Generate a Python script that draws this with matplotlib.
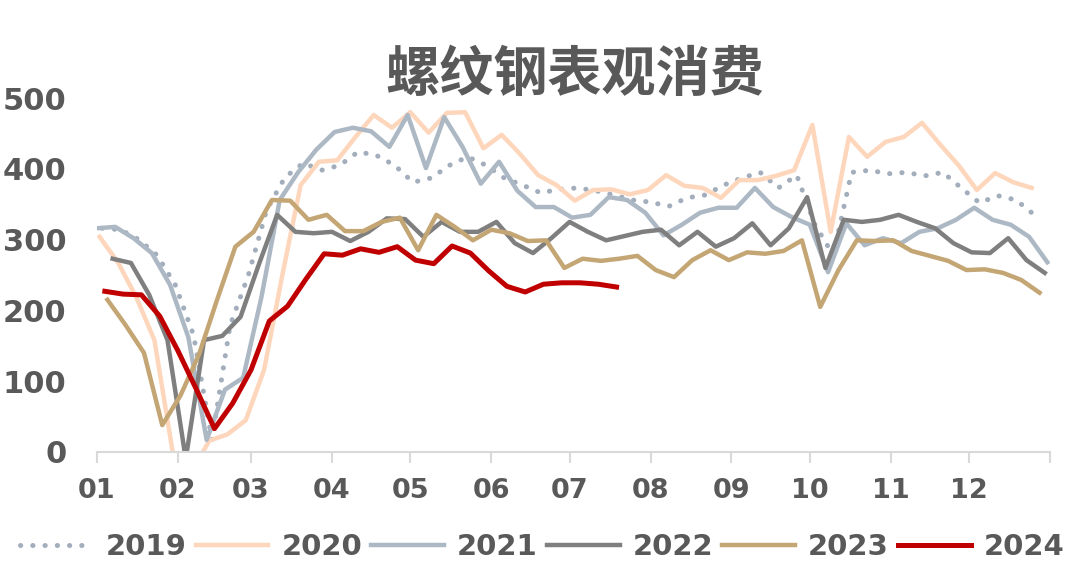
import matplotlib
matplotlib.use("Agg")
import matplotlib.pyplot as plt
import pandas as pd

plt.rcParams["font.family"] = ["DejaVu Sans", "Noto Sans CJK SC"]
plt.rcParams["font.weight"] = "bold"

TXT = "#595959"

# weekly apparent consumption of rebar (10k t)
years = ["2019", "2020", "2021", "2022", "2023", "2024"]
first_week = ["2019-01-03", "2020-01-02", "2021-01-01", "2022-01-07", "2023-01-05", "2024-01-04"]

v2019 = [316, 314, 300, 278, 236, 165, 17, 179, 250, 342, 388, 408, 398, 405, 424, 419, 405, 381,
         387, 405, 417, 405, 387, 377, 366, 371, 373, 369, 363, 356, 353, 347, 359, 363, 377, 387,
         395, 373, 391, 321, 278, 395, 398, 393, 395, 390, 395, 373, 352, 362, 356, 335]
v2020 = [304, 268, 219, 158, 0, -30, 16, 25, 45, 116, 250, 377, 410, 412, 445, 476, 458, 480,
         451, 479, 480, 429, 448, 421, 391, 377, 355, 370, 371, 364, 370, 391, 376, 373, 359, 384,
         384, 390, 398, 462, 311, 445, 417, 438, 445, 465, 434, 405, 370, 394, 381, 373]
v2021 = [316, 318, 302, 281, 236, 162, 17, 88, 105, 219, 356, 395, 427, 452, 458, 453, 431, 476,
         401, 473, 431, 379, 410, 369, 346, 346, 331, 335, 360, 356, 338, 306, 321, 338, 345, 345,
         373, 346, 332, 321, 254, 323, 292, 302, 295, 311, 316, 328, 345, 328, 321, 304, 268]
v2022 = [273, 267, 222, 158, -10, 158, 164, 191, 265, 335, 311, 309, 311, 298, 311, 330, 329, 304,
         325, 311, 311, 325, 295, 281, 302, 325, 311, 299, 305, 311, 314, 292, 311, 290, 302, 323,
         292, 316, 360, 260, 328, 325, 328, 335, 325, 316, 295, 282, 281, 302, 271, 253]
v2023 = [215, 179, 140, 38, 80, 137, 215, 290, 311, 356, 355, 328, 335, 312, 312, 325, 331, 285,
         335, 318, 299, 314, 309, 298, 299, 260, 273, 270, 273, 277, 257, 247, 271, 285, 271, 282,
         280, 284, 299, 205, 257, 299, 298, 299, 284, 277, 270, 257, 258, 253, 243, 225]
v2024 = [227, 223, 222, 192, 143, 89, 33, 69, 116, 185, 206, 244, 280, 278, 287, 282, 290, 271,
         266, 291, 281, 256, 234, 226, 237, 239, 239, 237, 233]

series = [v2019, v2020, v2021, v2022, v2023, v2024]
colors = ["#a3aebc", "#fdd6bb", "#adb8c5", "#7f7f7f", "#c4a574", "#c00000"]
month_labels = ["01", "02", "03", "04", "05", "06", "07", "08", "09", "10", "11", "12"]

fig = plt.figure(figsize=(10.8, 5.8), dpi=100)
ax = fig.add_axes([0.0898, 0.2207, 0.8824, 0.6103])

for yr, start, vals, c in zip(years, first_week, series, colors):
    d = pd.date_range(start, periods=len(vals), freq="7D")
    x = (d - pd.Timestamp(f"{yr}-01-01")).days
    if yr == "2019":
        ax.plot(x, vals, color=c, lw=3.6, ls=(0, (0.05, 2.4)), dash_capstyle="round",
                label=yr)
    else:
        lw = 3.6 if yr == "2024" else 3.2
        ax.plot(x, vals, color=c, lw=lw, label=yr, solid_joinstyle="round")

month_starts = pd.date_range("2023-01-01", periods=13, freq="MS")
ticks = (month_starts - pd.Timestamp("2023-01-01")).days
ax.set_xlim(0, 365)
ax.set_ylim(0, 500)
ax.set_xticks(ticks)
ax.set_xticklabels(month_labels + [""])
ax.set_yticks([0, 100, 200, 300, 400, 500])

for s in ("top", "right", "left"):
    ax.spines[s].set_visible(False)
ax.spines["bottom"].set_color("#d9d9d9")
ax.spines["bottom"].set_linewidth(1.5)
ax.tick_params(axis="x", colors="#d9d9d9", length=8, width=1.5, pad=11, labelcolor=TXT,
               labelsize=19.5)
ax.tick_params(axis="y", length=0, pad=22, labelcolor=TXT, labelsize=22)

fig.text(0.532, 0.869, "螺纹钢表观消费", ha="center", va="center", fontsize=39,
         fontweight="bold", color=TXT, family="Noto Sans CJK SC")

fig.legend(loc="center", bbox_to_anchor=(0.502, 0.057), ncol=6, frameon=False, fontsize=21,
           handlelength=2.5, handletextpad=0.45, columnspacing=0.3, borderpad=0.1,
           labelcolor=TXT)

fig.savefig("out.png", dpi=100, facecolor="white")
